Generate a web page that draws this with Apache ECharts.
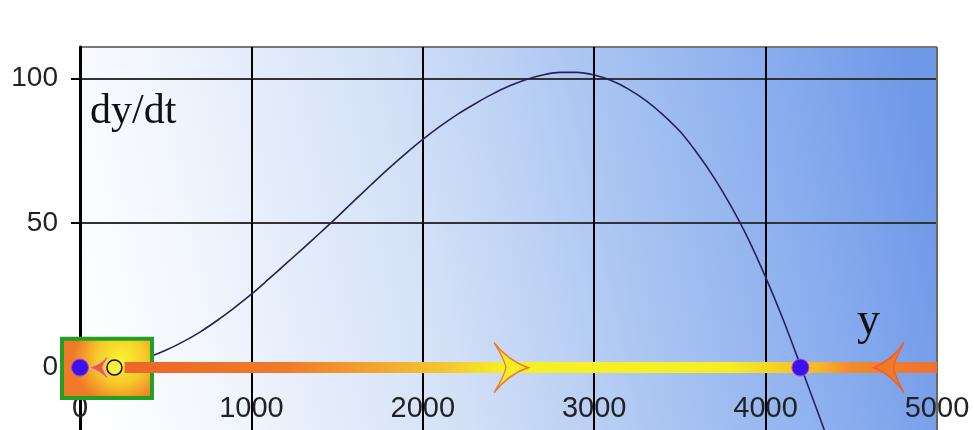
<!DOCTYPE html>
<html><head><meta charset="utf-8">
<script src="https://cdn.jsdelivr.net/npm/echarts@6/dist/echarts.min.js"></script>
<style>html,body{margin:0;padding:0;background:#fff}#c{width:974px;height:430px}</style>
</head><body><div id="c"></div>
<script>
// population y and growth rate dy/dt
const popY = [0,100,200,300,400,500,600,700,800,900,1000,1100,1200,1300,1400,1500,1600,1700,1800,1900,2000,2100,2200,2300,2400,2500,2600,2700,2800,2900,3000,3100,3200,3300,3400,3500,3600,3700,3800,3900,4000,4100,4200,4300,4400];
const growth = [0,-0.6,0,1.6,3.6,6.0,8.9,12.3,16.3,20.7,25.4,30.6,35.9,41.2,46.6,52.1,57.8,63.4,68.9,74.1,79.0,83.5,87.6,91.2,94.5,97.4,99.7,101.3,102.2,102.2,101.3,99.4,96.4,92.5,87.6,81.8,74.3,65.7,55.7,44.4,31.3,17.0,1.3,-14.7,-31.0];
const xTicks = [0,1000,2000,3000,4000,5000];
const yTicks = [0,50,100];
const flowBar = [[260,0],[5000,0]];
const arrowRight = [[2515,0]];
const arrowLeft = [[4720,0]];
const arrowSmall = [[114,0]];
const stableEq = [[0,0],[4203,0]];
const unstableEq = [[201,0]];
const zoomBox = [[-105,10,420,-10.5]];

const chart = echarts.init(document.getElementById('c'));
const arrowPath = 'path://M0,0 Q14,18 34,25 Q14,32 0,50 Q10,34 12,25 Q10,16 0,0 Z';
chart.setOption({
  animation:false,
  backgroundColor:'#ffffff',
  grid:{left:80,right:37,top:47,bottom:-82,show:true,containLabel:false,outerBoundsMode:'none',
    borderColor:'#666',borderWidth:1,
    backgroundColor:{type:'linear',x:0,y:0.7,x2:1,y2:0.3,colorStops:[
      {offset:0,color:'#ffffff'},{offset:0.15,color:'#f2f6fd'},{offset:0.42,color:'#d2e0f7'},
      {offset:0.65,color:'#a9c4f2'},{offset:0.85,color:'#88acee'},{offset:1,color:'#6e98e8'}]}},
  xAxis:{type:'value',min:xTicks[0],max:xTicks[xTicks.length-1],interval:1000,position:'bottom',offset:-126,
    axisLine:{show:false,onZero:false},axisTick:{show:false},
    axisLabel:{fontSize:29,fontFamily:'Liberation Sans',color:'#222',margin:8,hideOverlap:false,
      formatter:v=>String(v)},
    splitLine:{show:true,lineStyle:{color:['#000','#000','#000','#000','#000','#6a6a58'],width:2}}},
  yAxis:{type:'value',min:-50,max:111,interval:50,
    axisLine:{show:true,onZero:false,lineStyle:{color:'#000',width:3}},
    axisTick:{show:true,length:9,lineStyle:{color:'#000',width:2}},
    axisLabel:{fontSize:28,fontFamily:'Liberation Sans',color:'#222',margin:22,showMaxLabel:false,
      formatter:v=>yTicks.includes(v)?String(v):''},
    splitLine:{show:true,lineStyle:{color:['#333','#333','#333','#333','#777'],width:2}}},
  graphic:[
    {type:'text',x:90,y:112,z:100,style:{text:'dy/dt',font:'42px "Liberation Serif"',fill:'#111',
      align:'left',verticalAlign:'middle',textAlign:'left',textVerticalAlign:'middle'}},
    {type:'text',x:857,y:322,z:100,style:{text:'y',font:'46px "Liberation Serif"',fill:'#111',
      align:'left',verticalAlign:'middle',textAlign:'left',textVerticalAlign:'middle'}}
  ],
  series:[
    {type:'line',z:2,data:popY.map((v,i)=>[v,growth[i]]),smooth:0.3,showSymbol:false,
      lineStyle:{color:'#2b1f5c',width:1.6}},
    {type:'custom',z:3,clip:false,data:zoomBox,renderItem:(params,api)=>{
      const p0=api.coord([api.value(0),api.value(1)]);
      const p1=api.coord([api.value(2),api.value(3)]);
      return {type:'rect',shape:{x:p0[0],y:p0[1],width:p1[0]-p0[0],height:p1[1]-p0[1]},
        style:{fill:{type:'radial',x:0.65,y:0.35,r:0.75,colorStops:[
          {offset:0,color:'#f8f430'},{offset:0.5,color:'#f7cc2a'},{offset:1,color:'#f07a28'}]},
          stroke:'#22a022',lineWidth:4}};
    }},
    {type:'line',z:4,data:flowBar,showSymbol:false,
      lineStyle:{width:11,cap:'butt',color:{type:'linear',x:0,y:0,x2:1,y2:0,colorStops:[
        {offset:0,color:'#ec6628'},{offset:0.2,color:'#f07a2a'},{offset:0.4,color:'#f4c830'},
        {offset:0.47,color:'#f6f026'},{offset:0.74,color:'#f6ee24'},{offset:0.85,color:'#f5b62a'},
        {offset:0.89,color:'#f28a2c'},{offset:1,color:'#ee7030'}]}}},
    {type:'scatter',z:5,clip:false,data:arrowRight,symbol:arrowPath,symbolSize:[34,50],
      itemStyle:{color:'#f6ec28',borderColor:'#f07a30',borderWidth:1.5,opacity:1}},
    {type:'scatter',z:5,clip:false,data:arrowLeft,symbol:arrowPath,symbolSize:[30,50],symbolRotate:180,
      itemStyle:{color:'#f07a2a',borderColor:'#f0602a',borderWidth:1.5,opacity:1}},
    {type:'scatter',z:5,clip:false,data:arrowSmall,symbol:arrowPath,symbolSize:[15,20],symbolRotate:180,
      itemStyle:{color:'#f05a28',borderColor:'#e050c0',borderWidth:1,opacity:1}},
    {type:'scatter',z:6,clip:false,data:stableEq,symbol:'circle',symbolSize:17,
      itemStyle:{color:'#3a12ee',borderColor:'#b040d0',borderWidth:1,opacity:1}},
    {type:'scatter',z:6,clip:false,data:unstableEq,symbol:'circle',symbolSize:15,
      itemStyle:{color:'#f6f040',borderColor:'#111',borderWidth:1.5,opacity:1}}
  ]
});
</script></body></html>
